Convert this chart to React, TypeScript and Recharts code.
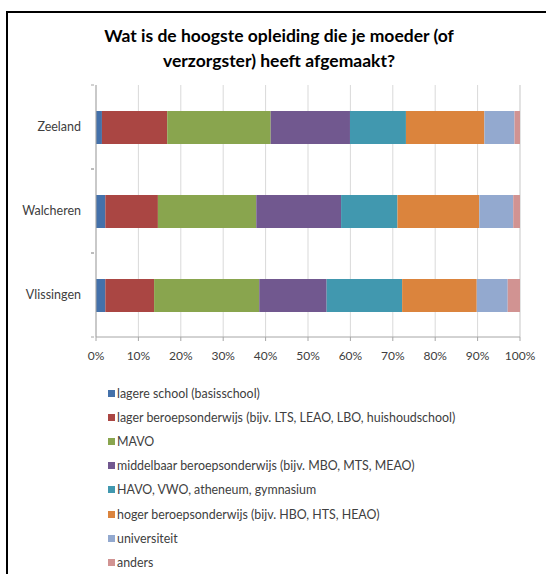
import { BarChart, Bar, XAxis, YAxis, CartesianGrid } from "recharts";

const categories = ["Zeeland", "Walcheren", "Vlissingen"];

// share per level, in %, same order as categories
const lagereSchool = [1.4, 2.2, 2.2];
const lagerBeroeps = [15.4, 12.4, 11.5];
const mavo = [24.4, 23.2, 24.8];
const middelbaarBeroeps = [18.7, 20.0, 15.9];
const havoVwo = [13.2, 13.3, 17.8];
const hogerBeroeps = [18.5, 19.3, 17.6];
const universiteit = [7.1, 8.0, 7.3];
const anders = [1.3, 1.6, 2.9];

const xTicks = [0, 10, 20, 30, 40, 50, 60, 70, 80, 90, 100];

const SERIES = [
  { key: "lagere", name: "lagere school (basisschool)", values: lagereSchool, color: "#4471AA" },
  { key: "lager", name: "lager beroepsonderwijs (bijv. LTS, LEAO, LBO, huishoudschool)", values: lagerBeroeps, color: "#AA4643" },
  { key: "mavo", name: "MAVO", values: mavo, color: "#89A54E" },
  { key: "mbo", name: "middelbaar beroepsonderwijs (bijv. MBO, MTS, MEAO)", values: middelbaarBeroeps, color: "#71588F" },
  { key: "havo", name: "HAVO, VWO, atheneum, gymnasium", values: havoVwo, color: "#4198AF" },
  { key: "hbo", name: "hoger beroepsonderwijs (bijv. HBO, HTS, HEAO)", values: hogerBeroeps, color: "#DB843D" },
  { key: "uni", name: "universiteit", values: universiteit, color: "#93A9CF" },
  { key: "anders", name: "anders", values: anders, color: "#D19392" },
];

const data = categories.map((cat, i) => {
  const row: Record<string, string | number> = { name: cat };
  SERIES.forEach((s) => {
    row[s.key] = s.values[i];
  });
  return row;
});

const FONT = "Lato, 'Open Sans', sans-serif";
const HALF_BAND = 42;

const CategoryTick = ({ x, y, payload }: any) => (
  <g>
    <line x1={x + 3} x2={x + 6} y1={y - HALF_BAND} y2={y - HALF_BAND} stroke="#a6a6a6" />
    <line x1={x + 3} x2={x + 6} y1={y + HALF_BAND} y2={y + HALF_BAND} stroke="#a6a6a6" />
    <text x={x - 7} y={y} dy={4} textAnchor="end" fontSize={12.5} fill="#404040" fontFamily={FONT}>
      {payload.value}
    </text>
  </g>
);

export default function App() {
  return (
    <div
      style={{
        position: "absolute",
        left: 0,
        top: 0,
        width: 546,
        height: 574,
        overflow: "hidden",
        background: "#fff",
        fontFamily: FONT,
      }}
    >
      <div
        style={{
          position: "absolute",
          left: 6,
          top: 11,
          width: 560,
          height: 600,
          border: "2px solid #000",
          boxSizing: "border-box",
        }}
      />
      <div
        style={{
          position: "absolute",
          left: 6,
          width: 546,
          top: 23,
          textAlign: "center",
          fontWeight: "bold",
          fontSize: 17.5,
          lineHeight: "25px",
          color: "#000",
        }}
      >
        Wat is de hoogste opleiding die je moeder (of
        <br />
        verzorgster) heeft afgemaakt?
      </div>
      <div style={{ position: "absolute", left: 0, top: 0 }}>
        <BarChart
          width={546}
          height={574}
          data={data}
          layout="vertical"
          margin={{ top: 85, right: 26, bottom: 207, left: 0 }}
          barSize={33}
        >
          <CartesianGrid horizontal={false} stroke="#d9d9d9" />
          <XAxis
            type="number"
            domain={[0, 100]}
            ticks={xTicks}
            tickFormatter={(v) => `${v}%`}
            interval={0}
            height={30}
            axisLine={{ stroke: "#a6a6a6" }}
            tickLine={{ stroke: "#a6a6a6" }}
            tickSize={4}
            tickMargin={10}
            tick={{ fontSize: 12, fill: "#404040", fontFamily: FONT }}
          />
          <YAxis
            type="category"
            dataKey="name"
            width={96}
            axisLine={{ stroke: "#a6a6a6" }}
            tickLine={false}
            tick={<CategoryTick />}
          />
          {SERIES.map((s) => (
            <Bar key={s.key} dataKey={s.key} name={s.name} stackId="a" fill={s.color} isAnimationActive={false} />
          ))}
        </BarChart>
      </div>
      <div style={{ position: "absolute", left: 108, top: 381 }}>
        {SERIES.map((s) => (
          <div
            key={s.key}
            style={{ display: "flex", alignItems: "center", height: 24.2, fontSize: 12.4, color: "#404040" }}
          >
            <span style={{ width: 7, height: 7, background: s.color, marginRight: 2 }} />
            <span>{s.name}</span>
          </div>
        ))}
      </div>
    </div>
  );
}
